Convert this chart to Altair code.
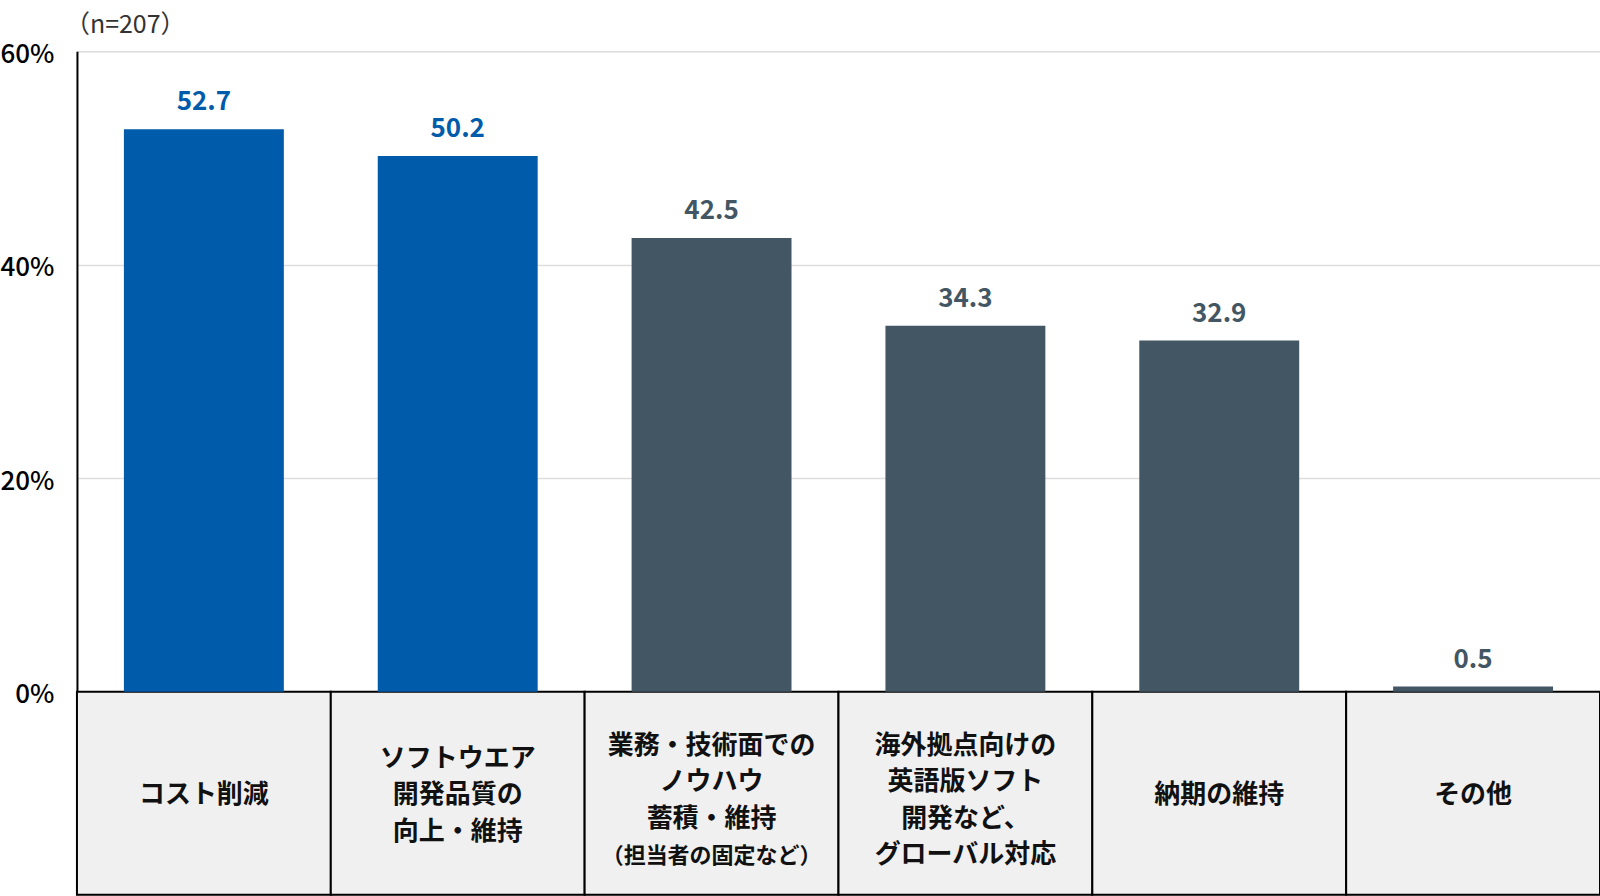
import altair as alt
import pandas as pd

categories = [
    "コスト削減",
    "ソフトウエア開発品質の向上・維持",
    "業務・技術面でのノウハウ蓄積・維持（担当者の固定など）",
    "海外拠点向けの英語版ソフト開発など、グローバル対応",
    "納期の維持",
    "その他",
]
label_lines = [
    "コスト削減",
    "ソフトウエア\n開発品質の\n向上・維持",
    "業務・技術面での\nノウハウ\n蓄積・維持\n ",
    "海外拠点向けの\n英語版ソフト\n開発など、\nグローバル対応",
    "納期の維持",
    "その他",
]
notes = ["", "", "（担当者の固定など）", "", "", ""]
values = [52.7, 50.2, 42.5, 34.3, 32.9, 0.5]
groups = ["top", "top", "other", "other", "other", "other"]
y_ticks = [0, 20, 40, 60]

df = pd.DataFrame({
    "cat": categories,
    "label": label_lines,
    "note": notes,
    "value": values,
    "group": groups,
})

FONT = "Noto Sans CJK JP"
BLUE = "#005BAA"
GRAY = "#435663"

Y_MIN = -19
y_scale = alt.Scale(domain=[Y_MIN, 60], nice=False, zero=False)
y_axis = alt.Axis(
    values=y_ticks, labelExpr="datum.value + '%'", title=None,
    ticks=False, labelPadding=23, labelFont=FONT, labelFontSize=26,
    labelFontWeight=500, labelOffset=3,
    labelColor="#000000", grid=True, gridColor="#dddddd", gridWidth=1.5,
    domain=True, domainColor="#000000", domainWidth=2,
)
color = alt.Color("group:N", scale=alt.Scale(domain=["top", "other"], range=[BLUE, GRAY]), legend=None)

x_bar = alt.X("cat:N", sort=categories, axis=None,
              scale=alt.Scale(paddingInner=0.37, paddingOuter=0.185))

bars = alt.Chart(df).mark_bar().encode(
    x=x_bar,
    y=alt.Y("value:Q", scale=y_scale, axis=y_axis),
    color=color,
)

value_labels = alt.Chart(df).mark_text(
    font=FONT, fontSize=26, fontWeight="bold", baseline="alphabetic", dy=-19
).encode(
    x=x_bar,
    y=alt.Y("value:Q", scale=y_scale, axis=y_axis),
    text=alt.Text("value:Q", format=".1f"),
    color=color,
)

bar_layer = alt.layer(bars, value_labels)

x_tab = alt.X("cat:N", sort=categories, axis=None,
              scale=alt.Scale(paddingInner=0, paddingOuter=0))

table = alt.Chart(df).mark_rect(fill="#f0f0f0", stroke="#000000", strokeWidth=2).encode(
    x=x_tab,
    y=alt.Y(datum=Y_MIN, scale=y_scale, axis=y_axis),
    y2=alt.Y2(datum=0),
)

# center of the label cell (data units) and line step (data units)
CENTER = Y_MIN / 2 - 0.2
STEP = 3.42

cat_text = alt.Chart(df).transform_calculate(
    nlines="length(split(datum.label, '\\n'))"
).transform_calculate(
    ty=f"{CENTER} + (datum.nlines - 1) / 2 * {STEP} - (datum.nlines > 3 ? 0.5 : 0)"
).mark_text(
    font=FONT, fontSize=26, fontWeight="bold", lineBreak="\n", lineHeight=36.5,
    baseline="middle", color="#111111",
).encode(
    x=x_tab,
    y=alt.Y("ty:Q", scale=y_scale, axis=y_axis),
    text="label:N",
)

note_text = alt.Chart(df).mark_text(
    font=FONT, fontSize=22, fontWeight="bold", baseline="middle", color="#111111",
).encode(
    x=x_tab,
    y=alt.Y(datum=CENTER - 0.5 - 1.5 * STEP, scale=y_scale, axis=y_axis),
    text="note:N",
)

table_layer = alt.layer(table, cat_text, note_text)

chart = alt.layer(table_layer, bar_layer).resolve_scale(x="independent").properties(
    width=1524,
    height=844,
    autosize=alt.AutoSizeParams(type="none"),
    padding={"left": 77, "top": 51, "right": 0, "bottom": 1},
    title=alt.TitleParams(
        "（n=207）", anchor="start", frame="group", font=FONT, fontSize=25,
        fontWeight="normal", color="#333333", offset=3, dx=-12,
    ),
).configure_view(stroke=None).configure(background="#ffffff")

chart.save("out.html", embed_options={"renderer": "svg", "actions": False})
